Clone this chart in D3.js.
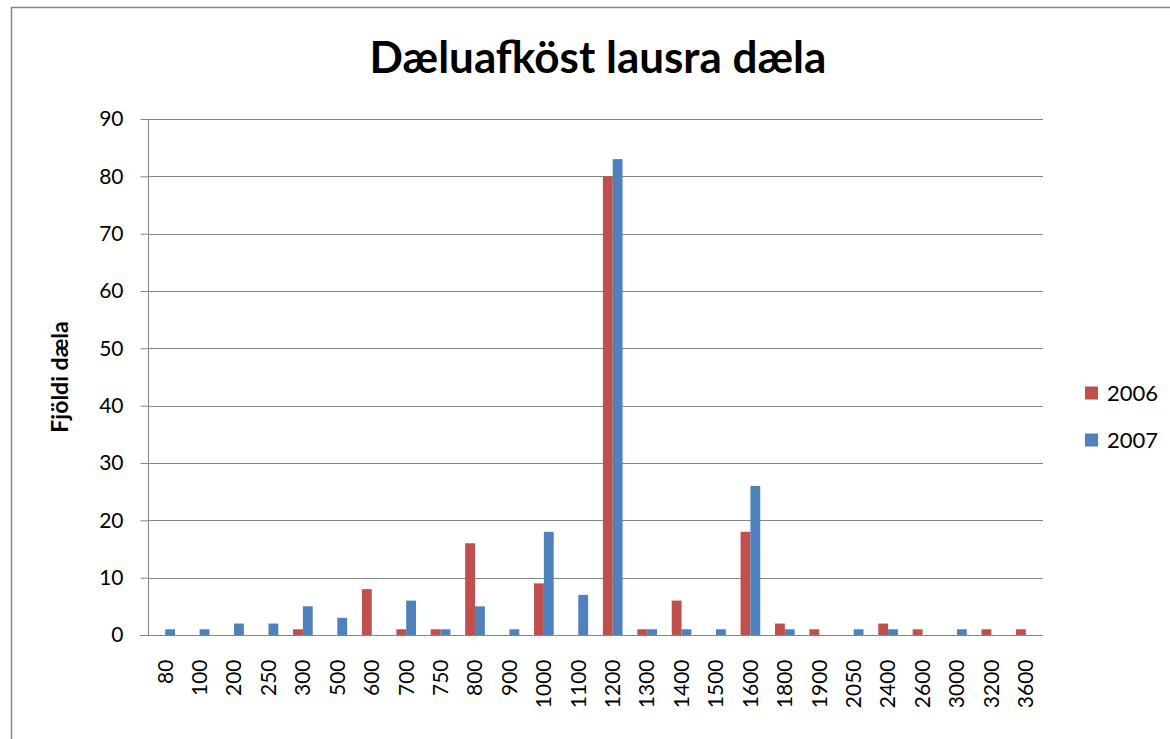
<!DOCTYPE html>
<html><head><meta charset="utf-8">
<script src="https://cdn.jsdelivr.net/npm/d3@7"></script>
<style>body{margin:0;background:#fff}svg{display:block}text{font-family:Lato,"Open Sans",sans-serif}</style>
</head><body>
<svg id="c" width="1170" height="739"></svg>
<script>
const categories = ["80","100","200","250","300","500","600","700","750","800","900","1000","1100","1200","1300","1400","1500","1600","1800","1900","2050","2400","2600","3000","3200","3600"];
const series2006 = [0,0,0,0,1,0,8,1,1,16,0,9,0,80,1,6,0,18,2,1,0,2,1,0,1,1];
const series2007 = [1,1,2,2,5,3,0,6,1,5,1,18,7,83,1,1,1,26,1,0,1,1,0,1,0,0];
const seriesNames = ["2006","2007"];
const colors = ["#C0504D","#4F81BD"];
const yTicks = [0,10,20,30,40,50,60,70,80,90];

const svg = d3.select("#c");
svg.append("rect").attr("x",11.5).attr("y",7.5).attr("width",1170).attr("height",760)
  .attr("fill","#fff").attr("stroke","#868686").attr("stroke-width",1.5);

const L=148, R=1043, T=119, B=635;
const x = d3.scaleBand().domain(categories).range([L,R]).paddingInner(0).paddingOuter(0);
const y = d3.scaleLinear().domain([0,90]).range([B,T]);
const bw = x.bandwidth()/3.5;

// gridlines
svg.append("g").selectAll("line").data(yTicks.filter(d=>d>0)).join("line")
  .attr("x1",L).attr("x2",R).attr("y1",d=>Math.round(y(d))+0.5).attr("y2",d=>Math.round(y(d))+0.5)
  .attr("stroke","#868686").attr("stroke-width",1);

const data = [series2006, series2007];
data.forEach((s,si)=>{
  svg.append("g").selectAll("rect").data(s.map((v,i)=>({c:categories[i],v}))).join("rect")
    .filter(d=>d.v>0)
    .attr("x",d=>x(d.c)+x.bandwidth()/2 - bw + si*bw)
    .attr("width",bw)
    .attr("y",d=>y(d.v))
    .attr("height",d=>B-y(d.v))
    .attr("fill",colors[si]);
});

// y axis
const ya = svg.append("g").attr("transform",`translate(${L+0.5},0)`)
  .call(d3.axisLeft(y).tickValues(yTicks).tickSize(8).tickPadding(17).tickFormat(d3.format("d")));
ya.select(".domain").attr("stroke","#868686").attr("d",`M0,${T}V${B}`);
ya.selectAll(".tick line").attr("stroke","#868686");
ya.selectAll(".tick text").attr("font-size",21).attr("fill","#000").attr("font-family","Lato,'Open Sans',sans-serif");

// x axis
const xa = svg.append("g").attr("transform",`translate(0,${B+0.5})`)
  .call(d3.axisBottom(x).tickSize(0).tickPadding(0));
xa.select(".domain").attr("stroke","#868686").attr("d",`M${L-8},0H${R}`);
xa.selectAll(".tick text").attr("font-size",21).attr("fill","#000")
  .attr("font-family","Lato,'Open Sans',sans-serif")
  .attr("transform","rotate(-90)").attr("text-anchor","end")
  .attr("x",-24).attr("y",0).attr("dy","0.35em");

// title
svg.append("text").attr("x",598).attr("y",73).attr("text-anchor","middle")
  .attr("font-size",44).attr("font-weight","bold").attr("fill","#000").text("Dæluafköst lausra dæla");

// y label
svg.append("text").attr("transform","translate(68,377) rotate(-90)").attr("text-anchor","middle")
  .attr("font-size",23).attr("font-weight","bold").attr("fill","#000").text("Fjöldi dæla");

// legend
const lg = svg.append("g");
seriesNames.forEach((n,i)=>{
  const yy = 393 + i*47;
  lg.append("rect").attr("x",1085).attr("y",yy-6.5).attr("width",13).attr("height",13).attr("fill",colors[i]);
  lg.append("text").attr("x",1107).attr("y",yy).attr("dy","0.35em").attr("font-size",22).attr("fill","#000").text(n);
});
</script>
</body></html>
